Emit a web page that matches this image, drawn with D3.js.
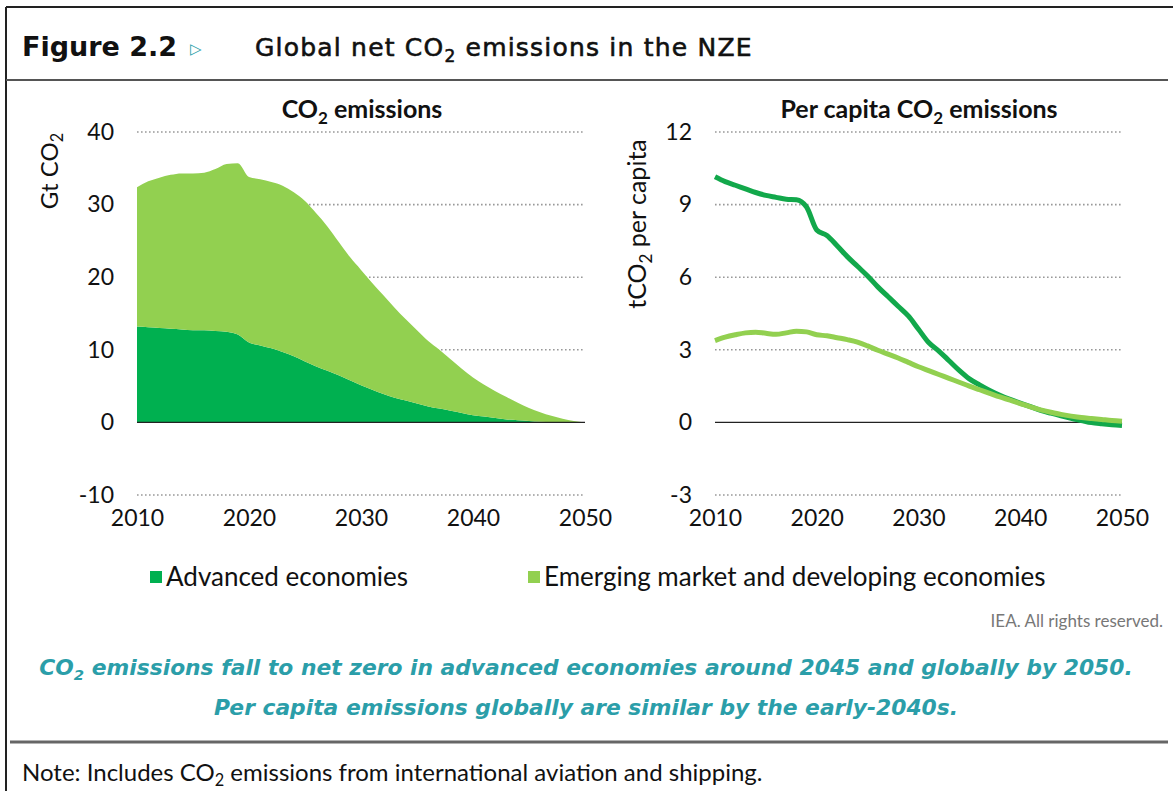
<!DOCTYPE html>
<html>
<head>
<meta charset="utf-8">
<script src="https://cdn.jsdelivr.net/npm/d3@7/dist/d3.min.js"></script>
<style>
    body { margin: 0; background: #fff; }
    svg text { font-family: Lato, "Open Sans", sans-serif; fill: #111; }
</style>
</head>
<body>
<svg id="fig" width="1173" height="791"></svg>
<script>
// years on the x axis
var years = [2010, 2011, 2012, 2013, 2014, 2015, 2016, 2017, 2018, 2019,
    2020, 2021, 2022, 2023, 2024, 2025, 2026, 2027, 2028, 2029,
    2030, 2031, 2032, 2033, 2034, 2035, 2036, 2037, 2038, 2039,
    2040, 2041, 2042, 2043, 2044, 2045, 2046, 2047, 2048, 2049, 2050];

// Gt CO2 (stacked area)
var advancedGt = [13.2, 13.1, 13.0, 12.9, 12.8, 12.7, 12.7, 12.6, 12.5, 12.1,
    11.0, 10.6, 10.2, 9.7, 9.1, 8.4, 7.7, 7.1, 6.5, 5.8,
    5.1, 4.5, 3.9, 3.4, 3.0, 2.6, 2.2, 1.9, 1.6, 1.3,
    1.0, 0.8, 0.6, 0.4, 0.3, 0.2, 0.1, 0.05, 0, 0, 0];
var emergingGt = [19.2, 20.1, 20.7, 21.2, 21.5, 21.6, 21.7, 22.3, 23.1, 23.6,
    22.8, 22.9, 22.9, 22.9, 22.6, 22.1, 21.1, 19.9, 18.4, 17.0,
    15.9, 14.7, 13.6, 12.4, 11.2, 10.1, 9.0, 8.1, 7.1, 6.1,
    5.2, 4.4, 3.7, 3.1, 2.4, 1.8, 1.3, 0.85, 0.5, 0.2, 0.0];

// t CO2 per capita (lines)
var advancedPc = [10.15, 9.95, 9.8, 9.65, 9.5, 9.38, 9.3, 9.22, 9.2, 8.9,
    7.95, 7.72, 7.3, 6.85, 6.45, 6.05, 5.6, 5.2, 4.8, 4.4,
    3.85, 3.3, 2.95, 2.55, 2.15, 1.8, 1.55, 1.32, 1.12, 0.95,
    0.8, 0.65, 0.5, 0.38, 0.27, 0.17, 0.08, -0.01, -0.06, -0.1, -0.13];
var emergingPc = [3.38, 3.52, 3.62, 3.7, 3.73, 3.68, 3.64, 3.7, 3.77, 3.74,
    3.62, 3.58, 3.5, 3.42, 3.32, 3.16, 2.98, 2.82, 2.66, 2.48,
    2.3, 2.14, 1.98, 1.82, 1.66, 1.5, 1.35, 1.2, 1.05, 0.92,
    0.78, 0.64, 0.52, 0.42, 0.33, 0.26, 0.2, 0.16, 0.12, 0.08, 0.05];

var xTicks = [2010, 2020, 2030, 2040, 2050];
var gtTicks = [-10, 0, 10, 20, 30, 40];
var pcTicks = [-3, 0, 3, 6, 9, 12];
var seriesNames = ["Advanced economies", "Emerging market and developing economies"];

var darkGreen = "#00b050";
var lightGreen = "#92d050";
var teal = "#2b9ea9";

var svg = d3.select("#fig");

// text with a subscript 2 (CO2)
function co2Text(sel, before, after, size) {
    sel.append("tspan").text(before + "CO");
    sel.append("tspan").text("2")
            .style("font-size", (size * 0.68) + "px")
            .attr("dy", size * 0.22);
    sel.append("tspan").text(after)
            .attr("dy", -size * 0.22);
}

//frame
svg.append("line").attr("x1", 6).attr("x2", 1173).attr("y1", 7).attr("y2", 7)
        .attr("stroke", "#222").attr("stroke-width", 2);
svg.append("line").attr("x1", 6).attr("x2", 6).attr("y1", 7).attr("y2", 791)
        .attr("stroke", "#222").attr("stroke-width", 2);
svg.append("line").attr("x1", 6).attr("x2", 1168).attr("y1", 80).attr("y2", 80)
        .attr("stroke", "#555").attr("stroke-width", 2);
svg.append("line").attr("x1", 10).attr("x2", 1168).attr("y1", 742).attr("y2", 742)
        .attr("stroke", "#666").attr("stroke-width", 3);

// title
svg.append("text").attr("x", 22).attr("y", 56)
        .style("font-family", "'DejaVu Sans'").style("font-weight", "bold").style("font-size", "27px")
        .text("Figure 2.2");
svg.append("text").attr("x", 190).attr("y", 54)
        .style("font-family", "'DejaVu Sans'").style("font-size", "15px").style("fill", teal)
        .text("\u25B7");
var title = svg.append("text").attr("x", 255).attr("y", 56)
        .style("font-family", "'DejaVu Sans'").style("font-size", "25px")
        .style("letter-spacing", "1.2px")
        .style("stroke", "#111").style("stroke-width", 0.6);
co2Text(title, "Global net ", " emissions in the NZE", 25);

var yTop = 132, yBottom = 495;

function drawGrid(g, x, y, ticks) {
    ticks.forEach(function (t) {
        g.append("line")
                .attr("x1", x.range()[0]).attr("x2", x.range()[1])
                .attr("y1", y(t)).attr("y2", y(t))
                .attr("stroke", t === 0 ? "#222" : "#999")
                .attr("stroke-width", t === 0 ? 1.2 : 1.6)
                .attr("stroke-dasharray", t === 0 ? null : "1.6,2.4");
    });
}

function drawAxes(g, x, y, ticks) {
    g.append("g")
            .attr("transform", "translate(" + x.range()[0] + ",0)")
            .call(d3.axisLeft(y).tickValues(ticks).tickSize(0).tickPadding(23)
                    .tickFormat(function (d) { return String(d); }))
            .call(function (a) { a.select(".domain").remove(); })
            .selectAll("text").style("font-size", "23px").style("font-family", "Lato");
    g.append("g")
            .attr("transform", "translate(0," + yBottom + ")")
            .call(d3.axisBottom(x).tickValues(xTicks).tickSize(0).tickPadding(15)
                    .tickFormat(function (d) { return String(d); }))
            .call(function (a) { a.select(".domain").remove(); })
            .selectAll("text").style("font-size", "23px").style("font-family", "Lato");
}

// left chart: stacked areas
var xL = d3.scaleLinear().domain([2010, 2050]).range([137, 585]);
var yL = d3.scaleLinear().domain([-10, 40]).range([yBottom, yTop]);
var gL = svg.append("g");
drawGrid(gL, xL, yL, gtTicks.filter(function (t) { return t !== 0; }));

var table = years.map(function (yr, i) {
    return {year: yr, advanced: advancedGt[i], emerging: emergingGt[i]};
});
var stack = d3.stack().keys(["advanced", "emerging"]);
var area = d3.area()
        .x(function (d) { return xL(d.data.year); })
        .y0(function (d) { return yL(d[0]); })
        .y1(function (d) { return yL(d[1]); })
        .curve(d3.curveMonotoneX);
gL.selectAll("path.area")
        .data(stack(table))
        .enter()
        .append("path")
        .attr("class", "area")
        .attr("fill", function (d, i) { return i === 0 ? darkGreen : lightGreen; })
        .attr("d", area);
drawGrid(gL, xL, yL, [0]);
drawAxes(gL, xL, yL, gtTicks);

var stL = gL.append("text").attr("x", 362).attr("y", 118).attr("text-anchor", "middle")
        .style("font-size", "25px").style("font-weight", "bold");
co2Text(stL, "", " emissions", 25);
var ytL = gL.append("text")
        .attr("transform", "translate(58,171) rotate(-90)")
        .attr("text-anchor", "middle")
        .style("font-size", "24px");
co2Text(ytL, "Gt ", "", 24);

// right chart: per capita lines
var xR = d3.scaleLinear().domain([2010, 2050]).range([715, 1122]);
var yR = d3.scaleLinear().domain([-3, 12]).range([yBottom, yTop]);
var gR = svg.append("g");
drawGrid(gR, xR, yR, pcTicks);
drawAxes(gR, xR, yR, pcTicks);

var line = d3.line()
        .x(function (d) { return xR(d[0]); })
        .y(function (d) { return yR(d[1]); })
        .curve(d3.curveMonotoneX);
[advancedPc, emergingPc].forEach(function (vals, i) {
    gR.append("path")
            .datum(years.map(function (yr, j) { return [yr, vals[j]]; }))
            .attr("fill", "none")
            .attr("stroke", i === 0 ? "#12a84b" : lightGreen)
            .attr("stroke-width", 5)
            .attr("stroke-linejoin", "round")
            .attr("d", line);
});

var stR = gR.append("text").attr("x", 919).attr("y", 118).attr("text-anchor", "middle")
        .style("font-size", "25px").style("font-weight", "bold");
co2Text(stR, "Per capita ", " emissions", 25);
var ytR = gR.append("text")
        .attr("transform", "translate(646,224) rotate(-90)")
        .attr("text-anchor", "middle")
        .style("font-size", "25px");
co2Text(ytR, "t", " per capita", 25);

// legend
var legendX = [150, 528];
seriesNames.forEach(function (name, i) {
    var row = svg.append("g").attr("transform", "translate(" + legendX[i] + ",571)");
    row.append("rect").attr("width", 12).attr("height", 12)
            .attr("fill", i === 0 ? darkGreen : lightGreen);
    row.append("text").attr("x", 16).attr("y", 15)
            .style("font-size", "26px")
            .text(name);
});

svg.append("text").attr("x", 1163).attr("y", 627).attr("text-anchor", "end")
        .style("font-size", "17px").style("fill", "#777")
        .text("IEA. All rights reserved.");

// caption
var cap1 = svg.append("text").attr("x", 586).attr("y", 675).attr("text-anchor", "middle")
        .style("font-family", "'DejaVu Sans'").style("font-size", "21.8px")
        .style("font-weight", "bold").style("font-style", "italic").style("fill", teal);
co2Text(cap1, "", " emissions fall to net zero in advanced economies around 2045 and globally by 2050.", 21.8);
cap1.selectAll("tspan").style("fill", teal);
svg.append("text").attr("x", 586).attr("y", 715).attr("text-anchor", "middle")
        .style("font-family", "'DejaVu Sans'").style("font-size", "21.8px")
        .style("font-weight", "bold").style("font-style", "italic").style("fill", teal)
        .text("Per capita emissions globally are similar by the early-2040s.");

var note = svg.append("text").attr("x", 22).attr("y", 781)
        .style("font-size", "24px");
co2Text(note, "Note: Includes ", " emissions from international aviation and shipping.", 24);
</script>
</body>
</html>
